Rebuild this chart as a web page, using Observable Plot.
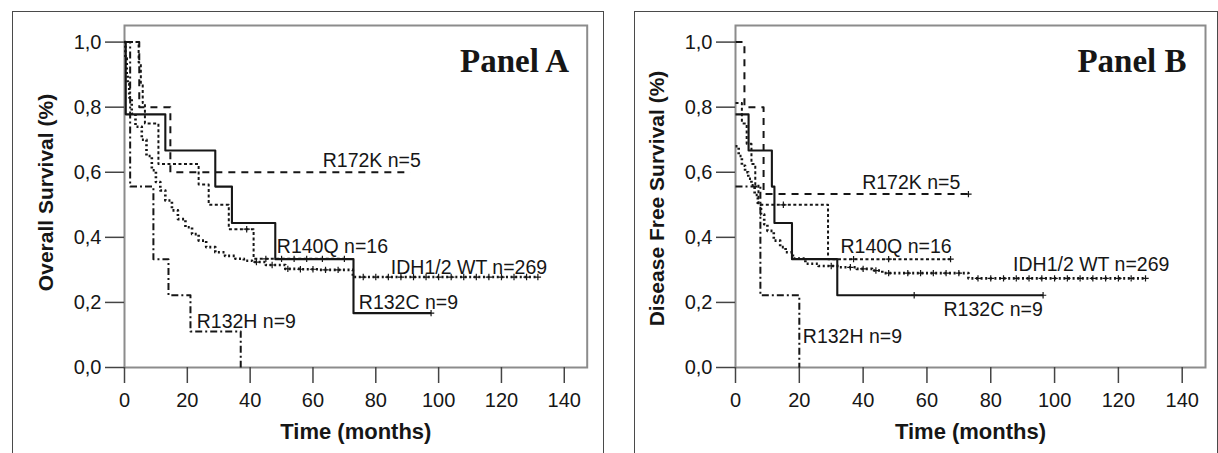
<!DOCTYPE html>
<html><head><meta charset="utf-8">
<script src="https://cdn.jsdelivr.net/npm/d3@7"></script>
<script src="https://cdn.jsdelivr.net/npm/@observablehq/plot@0.6"></script>
<style>
body{margin:0;background:#fff;}
#wrap{position:relative;width:1218px;height:453px;overflow:hidden;background:#fff;}
.box{position:absolute;box-sizing:border-box;border:1.5px solid #4a4a4a;}
.plot{position:absolute;top:0;}
</style></head><body>
<div id="wrap">
<div class="box" style="left:12px;top:11px;width:592px;height:470px;"></div>
<div class="box" style="left:634px;top:11px;width:584px;height:470px;"></div>
<div id="pa" class="plot" style="left:0px"></div>
<div id="pb" class="plot" style="left:609px"></div>
</div>
<script>
// ---------- shared ticks ----------
const monthTicks = [0, 20, 40, 60, 80, 100, 120, 140];
const survTicks = [0, 0.2, 0.4, 0.6, 0.8, 1.0];

// ---------- Panel A : Overall survival (step points) ----------
const osR172K_t = [0, 4.7, 14.6, 91];
const osR172K_s = [1, 0.8, 0.6, 0.6];
const osR140Q_t = [0, 4.5, 5.2, 5.8, 6.5, 10.8, 23.6, 26.8, 33.2, 41.1, 70];
const osR140Q_s = [1, 0.9375, 0.875, 0.8125, 0.75, 0.625, 0.5625, 0.5, 0.425, 0.334, 0.334];
const osWT_t = [0, 0.3, 0.7, 1, 1.5, 2.3, 3.5, 5.5, 7, 8.7, 10, 11.4, 13, 15.1, 17, 19.4, 21.5, 23.6, 26, 28.9, 32, 35.3, 38, 40.6, 45, 51.2, 56, 62, 68, 72.7, 131.6];
const osWT_s = [1, 0.95, 0.9, 0.87, 0.83, 0.78, 0.74, 0.70, 0.65, 0.606, 0.57, 0.544, 0.513, 0.483, 0.456, 0.431, 0.41, 0.39, 0.37, 0.354, 0.343, 0.334, 0.328, 0.324, 0.315, 0.303, 0.302, 0.30, 0.30, 0.278, 0.278];
const osR132C_t = [0, 0.4, 13, 28.9, 34.2, 48, 72.9, 97.6];
const osR132C_s = [1, 0.778, 0.667, 0.556, 0.444, 0.333, 0.167, 0.167];
const osR132H_t = [0, 1.8, 9.2, 14, 21, 37];
const osR132H_s = [1, 0.556, 0.333, 0.222, 0.111, 0];
// censored times
const osR140Q_c = [38.9, 45, 50, 54, 58, 63, 70];
const osWT_c = [42, 47, 52, 56, 60, 64, 68, 76, 80, 84, 88, 92, 96, 100, 104, 108, 112, 116, 120, 124, 128, 131.6];
const osR132C_c = [97.6];

// ---------- Panel B : Disease free survival ----------
const dfsR172K_t = [0, 2.8, 8.8, 73];
const dfsR172K_s = [1, 0.8, 0.533, 0.533];
const dfsR140Q_t = [0, 2, 3.5, 5, 6.2, 7.2, 29, 67.4];
const dfsR140Q_s = [0.8125, 0.75, 0.6875, 0.625, 0.5625, 0.5, 0.333, 0.333];
const dfsWT_t = [0, 1, 2, 3, 4, 5, 6, 7, 8, 9, 10, 12, 14, 15.7, 18, 21.9, 26, 32.4, 38, 42.8, 46, 52, 60, 73, 128.5];
const dfsWT_s = [0.68, 0.65, 0.62, 0.6, 0.58, 0.56, 0.53, 0.5, 0.47, 0.44, 0.42, 0.39, 0.37, 0.354, 0.335, 0.319, 0.312, 0.308, 0.303, 0.298, 0.29, 0.29, 0.29, 0.274, 0.274];
const dfsR132C_t = [0, 4.1, 11.4, 12.2, 17.7, 31.9, 96.4];
const dfsR132C_s = [0.778, 0.667, 0.556, 0.444, 0.333, 0.222, 0.222];
const dfsR132H_t = [0, 7.8, 20];
const dfsR132H_s = [0.556, 0.222, 0];
const dfsR140Q_c = [15, 37, 48, 67.4];
const dfsWT_c = [30, 36, 40, 44, 48, 54, 58, 62, 66, 70, 76, 80, 84, 88, 92, 96, 100, 104, 108, 112, 116, 120, 124, 128.5];
const dfsR132C_c = [56, 96.4];
const dfsR172K_c = [73];

// ---------- labels ----------
const labelsA = [
  {text: "R172K n=5", t: 63.1, s: 0.636},
  {text: "R140Q n=16", t: 48.5, s: 0.372},
  {text: "IDH1/2 WT n=269", t: 84.8, s: 0.308},
  {text: "R132C n=9", t: 74.6, s: 0.198},
  {text: "R132H n=9", t: 23, s: 0.14}
];
const labelsB = [
  {text: "R172K n=5", t: 39.7, s: 0.567},
  {text: "R140Q n=16", t: 32.9, s: 0.370},
  {text: "IDH1/2 WT n=269", t: 87.0, s: 0.315},
  {text: "R132C n=9", t: 65.2, s: 0.177},
  {text: "R132H n=9", t: 21.1, s: 0.093}
];

// ---------- styles per group ----------
const groupStyle = {
  R172K: {dash: "7,6", width: 2},
  R140Q: {dash: "3,2.5", width: 2},
  WT:    {dash: "2,2.6", width: 2.6},
  R132C: {dash: null, width: 2.1},
  R132H: {dash: "7,3,2,3", width: 2}
};

const SANS = "'Liberation Sans', Arial, Helvetica, sans-serif";
const INK = "#161616";

function zip(t, s) { return t.map((x, i) => ({t: x, s: s[i]})); }
function stepAt(t, s, x) { let v = s[0]; for (let i = 0; i < t.length; i++) if (t[i] <= x) v = s[i]; return v; }
const fmt = d => d.toFixed(1).replace(".", ",");

function makePanel(opts) {
  const marks = [
    Plot.frame({stroke: "#8c8c8c", strokeWidth: 2}),
    Plot.axisY({ticks: survTicks, tickSize: 19, tickPadding: 4, tickFormat: fmt, label: null, fontSize: 20, stroke: "#444", strokeWidth: 1.5, fill: INK, fontFamily: SANS}),
    Plot.axisX({ticks: monthTicks, tickSize: 16, tickPadding: 9, label: null, fontSize: 20, stroke: "#444", strokeWidth: 1.5, fill: INK, fontFamily: SANS})
  ];
  for (const sr of opts.series) {
    const st = groupStyle[sr.group];
    marks.push(Plot.line(zip(sr.t, sr.s), {x: "t", y: "s", curve: "step-after", stroke: INK, strokeWidth: st.width, strokeDasharray: st.dash || undefined, strokeLinecap: "butt"}));
    if (sr.c) {
      marks.push(Plot.dot(sr.c.map(x => ({t: x, s: stepAt(sr.t, sr.s, x)})), {x: "t", y: "s", symbol: "plus", r: 2.2, stroke: INK, strokeWidth: 1.2, fill: "none"}));
    }
  }
  marks.push(Plot.text(opts.labels, {x: "t", y: "s", text: "text", textAnchor: "start", lineAnchor: "middle", fontSize: 19.5, fill: INK, fontFamily: SANS}));
  marks.push(Plot.text([opts.title], {text: d => d, frameAnchor: "top-right", textAnchor: "end", lineAnchor: "bottom", dx: opts.titleDx, dy: 46, fontSize: 33, fontWeight: "bold", fontFamily: "'Liberation Serif', 'Times New Roman', serif", fill: INK}));
  marks.push(Plot.text([opts.yTitle], {text: d => d, frameAnchor: "left", rotate: -90, textAnchor: "middle", lineAnchor: "middle", dx: -78, dy: opts.yTitleDy, fontSize: 21, fontWeight: "bold", fontFamily: SANS, fill: INK}));
  marks.push(Plot.text(["Time (months)"], {text: d => d, frameAnchor: "bottom", textAnchor: "middle", lineAnchor: "middle", dy: 64, fontSize: 22, fontWeight: "bold", fontFamily: SANS, fill: INK}));
  return Plot.plot({
    width: 609, height: 453,
    marginLeft: opts.ml, marginRight: opts.mr, marginTop: 25, marginBottom: 86,
    x: {domain: [0, 147.3]},
    y: {domain: [0, 1.051]},
    style: {fontFamily: SANS, fontSize: "20px", background: "transparent", color: INK, overflow: "visible"},
    marks
  });
}

document.getElementById("pa").appendChild(makePanel({
  ml: 124, mr: 22.3, title: "Panel A", titleDx: -18, yTitle: "Overall Survival (%)", yTitleDy: -4,
  labels: labelsA,
  series: [
    {group: "R172K", t: osR172K_t, s: osR172K_s},
    {group: "WT", t: osWT_t, s: osWT_s, c: osWT_c},
    {group: "R140Q", t: osR140Q_t, s: osR140Q_s, c: osR140Q_c},
    {group: "R132C", t: osR132C_t, s: osR132C_s, c: osR132C_c},
    {group: "R132H", t: osR132H_t, s: osR132H_s}
  ]
}));
document.getElementById("pb").appendChild(makePanel({
  ml: 126, mr: 13, title: "Panel B", titleDx: -19, yTitle: "Disease Free Survival (%)", yTitleDy: 2,
  labels: labelsB,
  series: [
    {group: "R172K", t: dfsR172K_t, s: dfsR172K_s, c: dfsR172K_c},
    {group: "WT", t: dfsWT_t, s: dfsWT_s, c: dfsWT_c},
    {group: "R140Q", t: dfsR140Q_t, s: dfsR140Q_s, c: dfsR140Q_c},
    {group: "R132C", t: dfsR132C_t, s: dfsR132C_s, c: dfsR132C_c},
    {group: "R132H", t: dfsR132H_t, s: dfsR132H_s}
  ]
}));
</script>
</body></html>
